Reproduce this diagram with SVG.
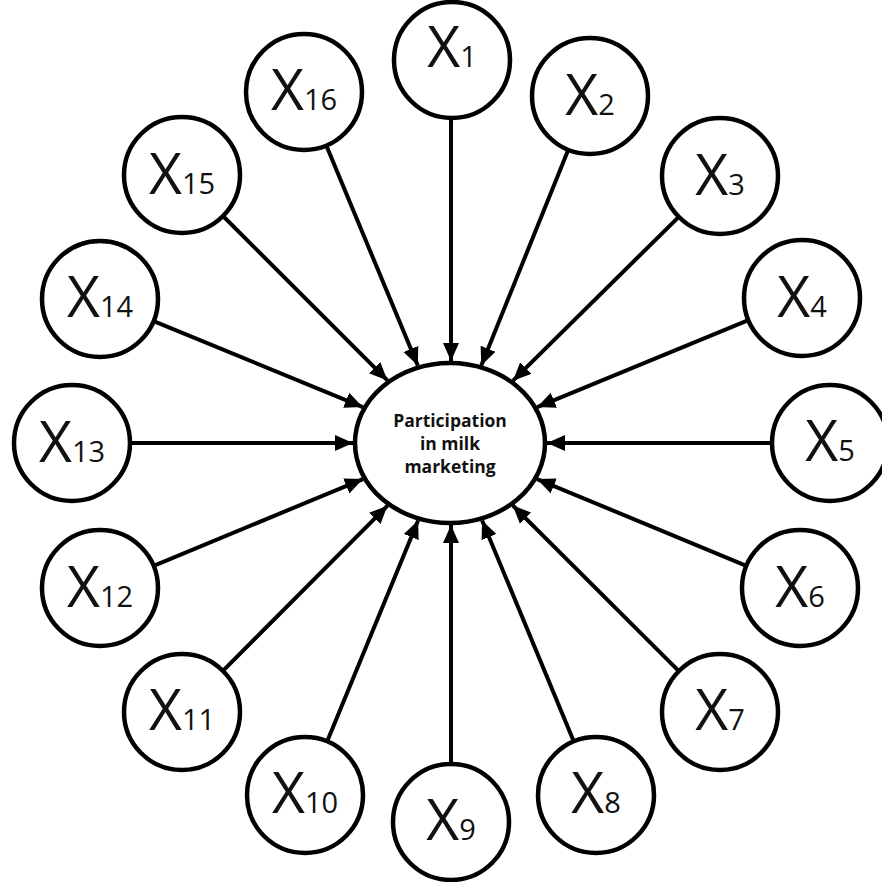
<svg xmlns="http://www.w3.org/2000/svg" width="882" height="882" viewBox="0 0 882 882">
<defs>
<marker id="ah" markerUnits="userSpaceOnUse" markerWidth="19" markerHeight="17" viewBox="0 0 19 17" refX="18" refY="8.5" orient="auto">
<path d="M0,0.5 L18,8.5 L0,16.5 z" fill="#000"/>
</marker>
<style>
.n{fill:#fff;stroke:#000;stroke-width:4.5}
.t{font-family:"Open Sans","Liberation Sans",sans-serif;font-size:57px;fill:#111;text-anchor:middle}
.s{font-size:29px}
.c{font-family:"Open Sans","Liberation Sans",sans-serif;font-size:17.5px;font-weight:bold;fill:#111;text-anchor:middle}
#edges line{stroke:#000;stroke-width:4;marker-end:url(#ah)}
</style>
</defs>
<rect width="882" height="882" fill="#fff"/>
<g id="edges">
<line x1="451" y1="118" x2="451" y2="361"/>
<line x1="568.3" y1="149.8" x2="481.3" y2="365.4"/>
<line x1="678.8" y1="216.8" x2="513" y2="380.7"/>
<line x1="748.4" y1="320.1" x2="537.2" y2="407.1"/>
<line x1="772" y1="443" x2="547" y2="443"/>
<line x1="746.4" y1="565.8" x2="537.1" y2="479.1"/>
<line x1="678.9" y1="671.1" x2="512.8" y2="505.5"/>
<line x1="573.8" y1="741.4" x2="482.1" y2="520.4"/>
<line x1="451" y1="764" x2="451" y2="525"/>
<line x1="327.1" y1="741.4" x2="418.1" y2="520.4"/>
<line x1="222.9" y1="670.9" x2="387.5" y2="505.7"/>
<line x1="153.6" y1="565.8" x2="362.9" y2="479.1"/>
<line x1="130" y1="443" x2="353" y2="443"/>
<line x1="153.6" y1="321.1" x2="362.8" y2="407.1"/>
<line x1="223" y1="216" x2="387.4" y2="380.4"/>
<line x1="326.3" y1="145.5" x2="417.8" y2="365.6"/>
</g>
<g id="center">
<ellipse class="n" cx="450" cy="443" rx="95" ry="80"/>
<text class="c" x="450" y="427">Participation</text>
<text class="c" x="450" y="450">in milk</text>
<text class="c" x="450" y="473">marketing</text>
</g>
<g id="x1"><circle class="n" cx="452" cy="60" r="58"/><text class="t" x="452" y="67">X<tspan class="s">1</tspan></text></g>
<g id="x2"><circle class="n" cx="590" cy="96" r="58"/><text class="t" x="590" y="115">X<tspan class="s">2</tspan></text></g>
<g id="x3"><circle class="n" cx="720" cy="176" r="58"/><text class="t" x="720" y="195">X<tspan class="s">3</tspan></text></g>
<g id="x4"><circle class="n" cx="802" cy="298" r="58"/><text class="t" x="802" y="317">X<tspan class="s">4</tspan></text></g>
<g id="x5"><circle class="n" cx="830" cy="443" r="58"/><text class="t" x="830" y="461">X<tspan class="s">5</tspan></text></g>
<g id="x6"><circle class="n" cx="800" cy="588" r="58"/><text class="t" x="800" y="607">X<tspan class="s">6</tspan></text></g>
<g id="x7"><circle class="n" cx="720" cy="712" r="58"/><text class="t" x="720" y="730">X<tspan class="s">7</tspan></text></g>
<g id="x8"><circle class="n" cx="596" cy="795" r="58"/><text class="t" x="596" y="813">X<tspan class="s">8</tspan></text></g>
<g id="x9"><circle class="n" cx="451" cy="822" r="58"/><text class="t" x="451" y="840">X<tspan class="s">9</tspan></text></g>
<g id="x10"><circle class="n" cx="305" cy="795" r="58"/><text class="t" x="305" y="813">X<tspan class="s">10</tspan></text></g>
<g id="x11"><circle class="n" cx="182" cy="712" r="58"/><text class="t" x="182" y="730">X<tspan class="s">11</tspan></text></g>
<g id="x12"><circle class="n" cx="100" cy="588" r="58"/><text class="t" x="100" y="607">X<tspan class="s">12</tspan></text></g>
<g id="x13"><circle class="n" cx="72" cy="443" r="58"/><text class="t" x="72" y="462">X<tspan class="s">13</tspan></text></g>
<g id="x14"><circle class="n" cx="100" cy="299" r="58"/><text class="t" x="100" y="317">X<tspan class="s">14</tspan></text></g>
<g id="x15"><circle class="n" cx="182" cy="175" r="58"/><text class="t" x="182" y="194">X<tspan class="s">15</tspan></text></g>
<g id="x16"><circle class="n" cx="304" cy="92" r="58"/><text class="t" x="304" y="110">X<tspan class="s">16</tspan></text></g>
</svg>
